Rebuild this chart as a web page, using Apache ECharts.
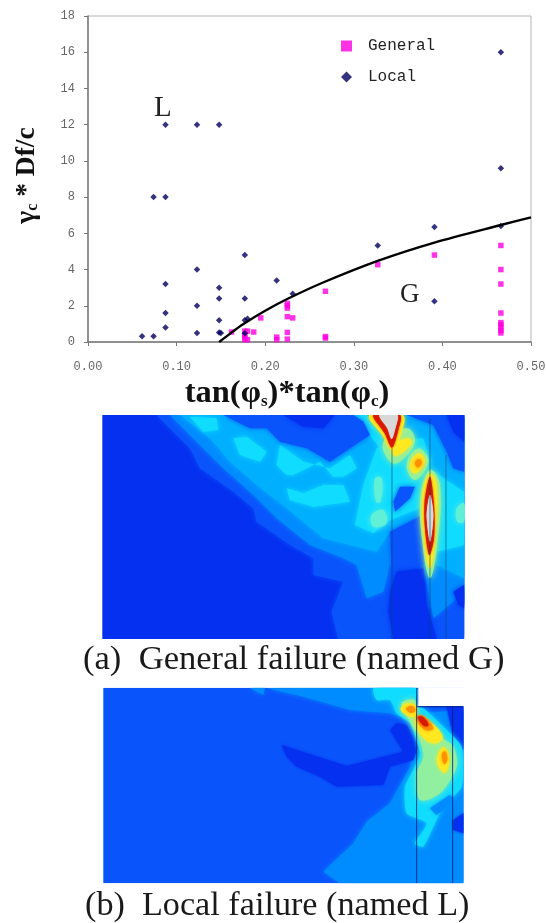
<!DOCTYPE html>
<html><head><meta charset="utf-8">
<style>html,body{margin:0;padding:0;background:#fff}#c{width:546px;height:923px;filter:blur(0.5px)}</style>
<script src="https://cdn.jsdelivr.net/npm/echarts@6/dist/echarts.min.js"></script>
</head><body><div id="c"></div>
<script>
const generalPoints=[[0.466,5.33],[0.466,4],[0.466,3.2],[0.466,1.6],[0.466,1.07],[0.466,0.96],[0.466,0.8],[0.466,0.64],[0.466,0.5],[0.391,4.8],[0.327,4.27],[0.268,2.8],[0.268,0.3],[0.268,0.22],[0.225,2.13],[0.225,2],[0.225,1.87],[0.225,1.4],[0.231,1.33],[0.225,0.53],[0.225,0.16],[0.213,0.27],[0.213,0.13],[0.195,1.33],[0.187,0.55],[0.177,0.6],[0.177,0.4],[0.177,0.27],[0.177,0.13],[0.18,0.13],[0.162,0.55],[0.18,0.6]];
const localPoints=[[0.0875,12],[0.123,12],[0.148,12],[0.0875,8],[0.074,8],[0.466,16],[0.466,9.6],[0.391,6.35],[0.327,5.33],[0.177,4.8],[0.123,4],[0.0875,3.2],[0.213,3.4],[0.148,3],[0.231,2.67],[0.148,2.4],[0.177,2.4],[0.123,2],[0.0875,1.6],[0.148,1.2],[0.177,1.2],[0.18,1.28],[0.0875,0.8],[0.123,0.5],[0.148,0.53],[0.15,0.5],[0.177,0.48],[0.061,0.32],[0.074,0.32],[0.391,2.25],[0.466,6.4]];
const boundaryCurve=[[0.148,0],[0.16,0.45],[0.175,0.98],[0.199,1.7],[0.226,2.4],[0.266,3.3],[0.327,4.48],[0.391,5.49],[0.466,6.46],[0.5,6.88]];

// Contour bands of panel (a), in the panel's own coordinates
const aBase=[[[37,30],[1122,30],[1122,702],[37,702]]];
const aBlue=[[[200,30],[300,130],[330,190],[430,260],[490,310],[500,350],[600,420],[670,460],[670,510],[760,530],[725,620],[745,702],[1122,702],[1122,30]]];
const aSky=[[[240,30],[320,110],[400,190],[490,270],[560,340],[660,420],[760,460],[800,480],[830,580],[880,560],[900,480],[1000,480],[1030,640],[1100,580],[1122,600],[1122,30]]];
const aLight=[[[270,30],[360,100],[420,170],[500,240],[590,310],[700,400],[860,440],[900,380],[990,330],[1040,480],[1122,520],[1122,100],[1060,30]]];
const aCyan=[[[300,35],[380,40],[385,75],[340,80]],[[430,100],[470,95],[530,140],[510,170],[450,150]],[[560,180],[570,120],[640,170],[720,190],[780,150],[800,190],[760,215],[730,215],[690,170],[610,210],[590,210]],[[590,250],[640,265],[700,240],[760,240],[780,290],[670,305],[600,285]],[[795,360],[820,240],[860,130],[905,110],[1000,100],[1020,170],[1010,250],[990,310],[900,345],[850,385]],[[1020,190],[1060,220],[1122,260],[1122,420],[1040,440],[1040,300]],[[780,30],[830,30],[880,90],[870,130],[840,90]]];
const aBlueOver=[[[400,30],[480,70],[530,70],[570,110],[650,130],[720,170],[780,130],[840,90],[820,50],[790,30]],[[950,30],[1122,30],[1122,200],[1090,190],[1070,140],[1030,60]],[[910,290],[930,245],[975,245],[960,280],[915,320]],[[900,380],[1000,330],[1000,480],[905,500]]];
const aDeepOver=[[[580,30],[640,65],[700,70],[735,30]],[[900,560],[920,500],[1000,490],[1010,600],[1040,702],[910,702],[895,620]],[[1070,30],[1122,30],[1122,110],[1090,80]],[[1090,560],[1122,540],[1122,610],[1105,600]]];
const aMint=[[[845,330],[880,315],[890,355],[850,365]],[[855,220],[875,220],[872,290],[858,290]],[[1100,310],[1122,295],[1122,350],[1102,350]]];
const aGreen=[[[880,110],[950,70],[975,110],[930,170],[900,170]],[[950,180],[985,130],[1015,170],[975,225]],[[1020,195],[1050,240],[1042,420],[1020,520],[998,420],[992,270]]];
const aYellow=[[[912,120],[955,100],[965,115],[925,150],[908,148]],[[838,30],[938,30],[935,80],[908,135],[878,92]],[[960,180],[985,145],[1005,170],[975,205]],[[1020,205],[1040,240],[1034,420],[1020,490],[1004,420],[998,270]]];
const aOrange=[[[975,172],[988,162],[996,175],[983,188]]];
const aRed=[[[850,30],[930,30],[925,75],[906,128],[884,85]],[[1020,215],[1032,300],[1032,400],[1018,450],[1006,380],[1004,290]]];
const aGrey=[[[868,30],[922,30],[916,70],[905,102],[892,70]],[[1020,270],[1030,330],[1020,410],[1010,330]]];
const aLines=[[[906,130],[906,702]],[[1020,40],[1020,702]],[[1068,150],[1068,702]]];

// Contour bands of panel (b)
const bBase=[[[40,23],[1120,23],[1120,610],[40,610]]];
const bSky=[[[530,25],[640,50],[780,90],[900,100],[960,120],[980,23]],[[478,23],[520,45],[525,23]],[[700,575],[750,610],[1120,610],[1120,90],[1000,100],[960,260],[900,370],[830,425],[790,490]]];
const bDeep=[[[575,195],[770,258],[940,215],[900,150],[920,130],[950,135],[985,200],[970,240],[900,260],[880,315],[740,320],[690,290],[620,260],[590,230]],[[1070,80],[1120,80],[1120,210],[1090,170]],[[1090,420],[1120,400],[1120,460],[1090,450]]];
const bCyan=[[[850,25],[980,25],[980,80],[1000,85],[1070,150],[1115,200],[1115,320],[1060,380],[1000,500],[975,490],[1010,430],[950,400],[945,320],[970,270],[990,220],[960,130],[920,100],[900,60],[860,60]]];
const bSlash=[[[1020,385],[1080,345],[1095,360],[1040,405]]];
const bGreen=[[[935,70],[975,60],[980,115],[1050,170],[1090,200],[1100,260],[1050,340],[990,360],[980,280],[1000,230],[985,170],[960,125]]];
const bYellow=[[[932,88],[952,70],[978,78],[978,106],[960,110]],[[978,112],[1020,125],[1058,172],[1030,190],[988,158]],[[1042,232],[1060,202],[1078,230],[1066,278],[1047,262]]];
const bOrange=[[[948,85],[968,78],[976,93],[960,98]],[[978,112],[1000,108],[1030,145],[1005,150]],[[1056,222],[1066,214],[1072,240],[1062,252]]];
const bRed=[[[984,112],[998,110],[1016,135],[1002,138]]];
const bCut=[[[985,15],[1130,15],[1130,78],[985,78]]];
const bLines=[[[980,23],[980,610]],[[1088,80],[1088,610]],[[980,80],[1120,80]]];

function bands(list,axis){
  return list.map(([polys,fill,smooth,soft])=>({type:'custom',coordinateSystem:'cartesian2d',xAxisIndex:axis,yAxisIndex:axis,silent:true,animation:false,clip:true,z:1,
    data:polys.map((p,i)=>[i]),
    renderItem:(params,api)=>({type:'polygon',shape:{smooth:smooth||0,points:polys[params.dataIndex].map(pt=>api.coord(pt))},style:{fill,shadowBlur:soft,shadowColor:fill}})}));
}
function rules(lines,axis,stroke){
  return {type:'custom',coordinateSystem:'cartesian2d',xAxisIndex:axis,yAxisIndex:axis,silent:true,animation:false,clip:true,z:2,
    data:lines.map((p,i)=>[i]),
    renderItem:(params,api)=>({type:'polyline',shape:{points:lines[params.dataIndex].map(pt=>api.coord(pt))},style:{stroke,lineWidth:1,fill:'none'}})};
}
const hidden=(min,max,inverse)=>({type:'value',min,max,inverse,show:false,splitLine:{show:false}});
const DEEP='#0530f0',BLUE='#0a54fc',SKY='#008cff',LIGHT='#00b0ff',CYAN='#10dcff',MINT='#60f0d8',GREEN='#90f0a0',YEL='#ffe820',ORG='#ff9000',RED='#d81800',GREY='#d8d8d8';
const mono='"Liberation Mono",monospace',serif='"Liberation Serif",serif';
const chart=echarts.init(document.getElementById('c'),null,{renderer:'canvas'});
chart.setOption({
  animation:false,backgroundColor:'#fff',
  legend:{data:['General','Local'],orient:'vertical',left:336,top:33,itemWidth:11,itemHeight:11,itemGap:15,
    textStyle:{fontFamily:mono,fontSize:16,color:'#222',padding:[0,0,0,11]},selectedMode:false},
  grid:[
    {left:88,top:16,width:443,height:326,outerBoundsMode:'none',show:true,borderColor:'#b4b4b4',borderWidth:1,backgroundColor:'#fff'},
    {left:102.3,top:415,width:361.7,height:224,outerBoundsMode:'none'},
    {left:103.3,top:687.7,width:360,height:195.6,outerBoundsMode:'none'}],
  xAxis:[
    {type:'value',gridIndex:0,min:0,max:0.5,interval:0.1,
      name:'tan(φ{s|s})*tan(φ{s|c})',nameLocation:'middle',nameGap:35,
      nameTextStyle:{fontFamily:serif,fontWeight:'bold',fontSize:32.5,color:'#111',padding:[0,45,0,0],
        rich:{s:{fontFamily:serif,fontWeight:'bold',fontSize:17,color:'#111',verticalAlign:'bottom',padding:[8,0,0,0]}}},
      axisLine:{lineStyle:{color:'#777',width:1.5}},axisTick:{show:true,length:4,inside:false,lineStyle:{color:'#777'}},
      axisLabel:{fontFamily:mono,fontSize:12,color:'#666',margin:19,hideOverlap:false,showMaxLabel:true,showMinLabel:true,formatter:v=>v.toFixed(2)},
      splitLine:{show:false}},
    {...hidden(37,1122,false),gridIndex:1},
    {...hidden(40,1120,false),gridIndex:2}],
  yAxis:[
    {type:'value',gridIndex:0,min:0,max:18,interval:2,
      name:'{g|γ}{s|c}{g| * Df/c}',nameLocation:'middle',nameGap:47,nameRotate:90,
      nameTextStyle:{padding:[0,0,0,7],rich:{g:{fontFamily:serif,fontWeight:'bold',fontSize:27.5,color:'#111'},s:{fontFamily:serif,fontWeight:'bold',fontSize:16,color:'#111',verticalAlign:'bottom',padding:[8,0,0,0]}}},
      axisLine:{show:true,lineStyle:{color:'#777',width:1.5}},axisTick:{show:true,length:4,lineStyle:{color:'#777'}},
      axisLabel:{fontFamily:mono,fontSize:12,color:'#666',margin:13},
      splitLine:{show:false}},
    {...hidden(30,702,true),gridIndex:1},
    {...hidden(23,610,true),gridIndex:2}],
  graphic:[
    {type:'text',left:154,top:94,style:{text:'L',font:'29px "Liberation Serif",serif',fill:'#222'}},
    {type:'text',left:400,top:281,style:{text:'G',font:'27px "Liberation Serif",serif',fill:'#222'}},
    {type:'text',left:83,top:642,style:{text:'(a)  General failure (named G)',font:'34.6px "Liberation Serif",serif',fill:'#1a1a1a'}},
    {type:'text',left:85,top:889,style:{text:'(b)  Local failure (named L)',font:'34.2px "Liberation Serif",serif',fill:'#1a1a1a'}}],
  series:[
    ...bands([[aBase,DEEP,0,0],[aBlue,BLUE,0,5],[aSky,SKY,0,5],[aLight,LIGHT,0,5],[aCyan,CYAN,0,5],[aBlueOver,BLUE,0,5],[aDeepOver,DEEP,0,5],[aMint,MINT,0.4,6],[aGreen,GREEN,0.4,7],[aYellow,YEL,0.4,4],[aOrange,ORG,0.4,4],[aRed,RED,0.3,2],[aGrey,GREY,0.3,1]],1),
    rules(aLines,1,'rgba(0,70,110,0.6)'),
    ...bands([[bBase,BLUE,0,0],[bSky,SKY,0,5],[bDeep,DEEP,0,3],[bCyan,CYAN,0.2,5],[bSlash,SKY,0,3],[bGreen,GREEN,0.3,6],[bYellow,YEL,0.4,4],[bOrange,ORG,0.4,3],[bRed,RED,0.4,2],[bCut,'#ffffff',0,0]],2),
    rules(bLines,2,'rgba(0,30,110,0.8)'),
    {name:'General',type:'scatter',xAxisIndex:0,yAxisIndex:0,symbol:'rect',symbolSize:5.5,itemStyle:{color:'#ff00e0'},data:generalPoints,z:3},
    {name:'Local',type:'scatter',xAxisIndex:0,yAxisIndex:0,symbol:'diamond',symbolSize:6.5,itemStyle:{color:'#000060'},data:localPoints,z:4},
    {name:'Boundary',type:'line',xAxisIndex:0,yAxisIndex:0,smooth:0.3,showSymbol:false,lineStyle:{color:'#000',width:2.4},data:boundaryCurve,z:5}
  ]
});
</script></body></html>
